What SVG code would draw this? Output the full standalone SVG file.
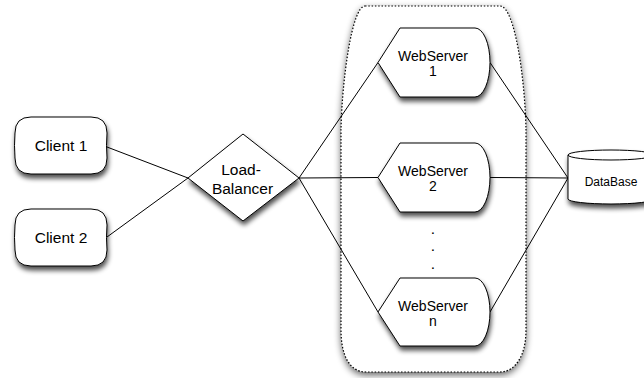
<svg xmlns="http://www.w3.org/2000/svg" width="644" height="378" viewBox="0 0 644 378">
  <defs>
    <filter id="shadow" x="-20%" y="-20%" width="140%" height="140%">
      <feGaussianBlur in="SourceAlpha" stdDeviation="2.5"/>
      <feOffset dx="1" dy="4" result="blur"/>
      <feComponentTransfer><feFuncA type="linear" slope="0.7"/></feComponentTransfer>
      <feMerge><feMergeNode/><feMergeNode in="SourceGraphic"/></feMerge>
    </filter>
    <filter id="pool-shadow" x="-20%" y="-10%" width="140%" height="120%">
      <feGaussianBlur in="SourceAlpha" stdDeviation="3.5"/>
      <feOffset dx="0" dy="3" result="blur"/>
      <feComponentTransfer><feFuncA type="linear" slope="0.6"/></feComponentTransfer>
      <feMerge><feMergeNode/><feMergeNode in="SourceGraphic"/></feMerge>
    </filter>
    <style>
      .shape { fill: #ffffff; stroke: #000000; stroke-width: 1; }
      .group { fill: #ffffff; stroke: #000000; stroke-width: 1.2; stroke-dasharray: 1.5 1.8; }
      .link { fill: none; stroke: #000000; stroke-width: 1; }
      text { font-family: "Liberation Sans", Arial, sans-serif; fill: #000000; text-anchor: middle; }
      .big { font-size: 15.5px; }
      .mid { font-size: 14px; }
      .small { font-size: 12px; }
    </style>
  </defs>
  <rect width="644" height="378" fill="#ffffff"/>

  <!-- dotted web-server pool -->
  <g id="pool">
    <path class="group" filter="url(#pool-shadow)" d="M 365 6 L 500 6 C 515 6 525 80 526 130 L 526 330 C 526 356 515 372 500 372 L 366 372 C 350 372 341 356 341 330 L 341 130 C 342 80 352 6 365 6 Z"/>
  </g>

  <!-- connectors -->
  <g id="connectors">
    <line class="link" x1="107" y1="147" x2="188" y2="178"/>
    <line class="link" x1="107" y1="237" x2="188" y2="178"/>
    <line class="link" x1="299" y1="178" x2="378" y2="62.5"/>
    <line class="link" x1="299" y1="178" x2="378" y2="177.5"/>
    <line class="link" x1="299" y1="178" x2="378" y2="312"/>
    <line class="link" x1="490" y1="62.5" x2="568" y2="178"/>
    <line class="link" x1="490" y1="177.5" x2="568" y2="178"/>
    <line class="link" x1="490" y1="312" x2="568" y2="178"/>
  </g>

  <g id="client1">
    <path class="shape" filter="url(#shadow)" d="M 31 117 L 91 117 Q 107 117 107 133 Q 106 145.5 107 158 Q 107 174 91 174 L 31 174 Q 15 174 15 158 Q 14 145.5 15 133 Q 15 117 31 117 Z"/>
    <text class="big" x="61" y="151">Client 1</text>
  </g>

  <g id="client2">
    <path class="shape" filter="url(#shadow)" d="M 31 209 L 91 209 Q 107 209 107 225 Q 106 237.5 107 250 Q 107 266 91 266 L 31 266 Q 15 266 15 250 Q 14 237.5 15 225 Q 15 209 31 209 Z"/>
    <text class="big" x="61" y="243">Client 2</text>
  </g>

  <g id="load-balancer">
    <path class="shape" filter="url(#shadow)" d="M 188 178 L 243 134 L 299 178 L 243 221 Z"/>
    <text class="big" x="241" y="175">Load-</text>
    <text class="big" x="242.5" y="194">Balancer</text>
  </g>

  <g id="webserver1">
    <path class="shape" filter="url(#shadow)" d="M 378 62.5 L 400 28 L 475 28 A 15 34.5 0 0 1 475 97 L 400 97 Z"/>
    <text class="mid" x="433" y="61">WebServer</text>
    <text class="mid" x="433" y="76">1</text>
  </g>

  <g id="webserver2">
    <path class="shape" filter="url(#shadow)" d="M 378 177.5 L 400 143 L 475 143 A 15 34.5 0 0 1 475 212 L 400 212 Z"/>
    <text class="mid" x="433" y="176">WebServer</text>
    <text class="mid" x="433" y="191">2</text>
  </g>

  <g id="ellipsis">
    <text class="big" x="433" y="234">.</text>
    <text class="big" x="433" y="251">.</text>
    <text class="big" x="433" y="269">.</text>
  </g>

  <g id="webservern">
    <path class="shape" filter="url(#shadow)" d="M 378 312 L 400 278 L 475 278 A 15 34 0 0 1 475 346 L 400 346 Z"/>
    <text class="mid" x="433" y="311">WebServer</text>
    <text class="mid" x="433" y="326">n</text>
  </g>

  <g id="database">
    <path class="shape" filter="url(#shadow)" d="M 568 155 L 568 199 A 43 5 0 0 0 654 199 L 654 155 A 43 5 0 0 0 568 155 Z"/>
    <path class="link" d="M 568 155 A 43 5 0 0 0 654 155"/>
    <text class="small" x="611" y="186">DataBase</text>
  </g>
</svg>
